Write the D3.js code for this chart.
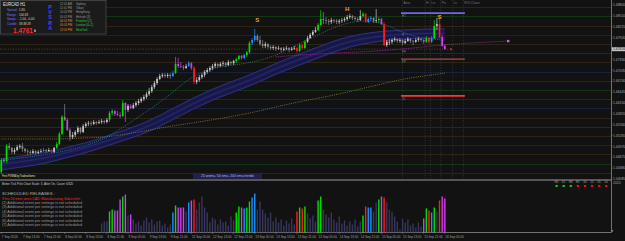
<!DOCTYPE html>
<html><head><meta charset="utf-8">
<script src="https://cdn.jsdelivr.net/npm/d3@7"></script>
<style>html,body{margin:0;padding:0;background:#131313;overflow:hidden}svg{display:block}text{font-family:"Liberation Sans",Arial,sans-serif}</style>
</head><body><svg id="c" width="625" height="241"></svg>
<script>
// ---------------- DATA ----------------
const symbol = "EURCAD  H1";
const lastPrice = "1.4761";
const bidPrice = 1.4761;
const firstOpen = 1.4427;
const closes = [
1.4460,1.4457,1.4498,1.4493,1.4482,1.4487,1.4495,1.4498,1.4490,1.4484,
1.4482,1.4479,1.4484,1.4479,1.4482,1.4484,1.4487,1.4484,1.4487,1.4482,
1.4493,1.4503,1.4531,1.4577,1.4569,1.4541,1.4522,1.4528,1.4536,1.4547,
1.4536,1.4552,1.4558,1.4560,1.4558,1.4563,1.4560,1.4563,1.4566,1.4563,
1.4569,1.4588,1.4593,1.4585,1.4582,1.4579,1.4615,1.4596,1.4607,1.4601,
1.4609,1.4615,1.4620,1.4626,1.4631,1.4639,1.4647,1.4658,1.4669,1.4680,
1.4688,1.4691,1.4688,1.4691,1.4688,1.4696,1.4721,1.4715,1.4713,1.4710,
1.4715,1.4723,1.4710,1.4672,1.4677,1.4685,1.4691,1.4699,1.4704,1.4710,
1.4715,1.4721,1.4715,1.4721,1.4723,1.4718,1.4726,1.4723,1.4729,1.4734,
1.4743,1.4737,1.4745,1.4753,1.4778,1.4786,1.4797,1.4786,1.4775,1.4770,
1.4775,1.4767,1.4764,1.4767,1.4762,1.4764,1.4759,1.4762,1.4764,1.4759,
1.4762,1.4764,1.4756,1.4772,1.4764,1.4781,1.4791,1.4800,1.4808,1.4813,
1.4827,1.4843,1.4840,1.4838,1.4835,1.4840,1.4838,1.4835,1.4838,1.4840,
1.4843,1.4848,1.4851,1.4846,1.4843,1.4840,1.4851,1.4857,1.4835,1.4843,
1.4846,1.4838,1.4840,1.4843,1.4829,1.4772,1.4781,1.4781,1.4786,1.4789,
1.4783,1.4786,1.4778,1.4783,1.4789,1.4783,1.4781,1.4786,1.4789,1.4786,
1.4781,1.4791,1.4781,1.4791,1.4824,1.4829,1.4794,1.4770,1.4761];
const highs = [
1.4465,1.4465,1.4503,1.4506,1.4495,1.4493,1.4501,1.4503,1.4506,1.4493,
1.4490,1.4487,1.4490,1.4487,1.4487,1.4490,1.4493,1.4490,1.4493,1.4490,
1.4495,1.4509,1.4536,1.4582,1.4612,1.4574,1.4547,1.4536,1.4541,1.4552,
1.4550,1.4558,1.4563,1.4566,1.4566,1.4569,1.4566,1.4569,1.4571,1.4569,
1.4574,1.4593,1.4598,1.4596,1.4593,1.4590,1.4623,1.4617,1.4612,1.4612,
1.4615,1.4620,1.4626,1.4631,1.4637,1.4645,1.4656,1.4664,1.4675,1.4685,
1.4694,1.4696,1.4696,1.4696,1.4696,1.4702,1.4740,1.4737,1.4726,1.4718,
1.4721,1.4729,1.4726,1.4715,1.4685,1.4691,1.4696,1.4704,1.4710,1.4715,
1.4721,1.4726,1.4723,1.4726,1.4729,1.4726,1.4732,1.4729,1.4732,1.4737,
1.4745,1.4745,1.4748,1.4756,1.4783,1.4791,1.4816,1.4802,1.4797,1.4786,
1.4781,1.4778,1.4772,1.4772,1.4770,1.4770,1.4767,1.4767,1.4770,1.4767,
1.4767,1.4770,1.4767,1.4778,1.4775,1.4786,1.4797,1.4805,1.4813,1.4821,
1.4832,1.4867,1.4862,1.4848,1.4843,1.4846,1.4843,1.4843,1.4843,1.4846,
1.4848,1.4854,1.4857,1.4854,1.4851,1.4848,1.4867,1.4862,1.4859,1.4848,
1.4851,1.4848,1.4870,1.4848,1.4846,1.4835,1.4786,1.4789,1.4791,1.4794,
1.4791,1.4791,1.4789,1.4789,1.4794,1.4791,1.4786,1.4791,1.4794,1.4791,
1.4789,1.4797,1.4794,1.4797,1.4840,1.4846,1.4851,1.4800,1.4775];
const lows = [
1.4422,1.4452,1.4452,1.4487,1.4476,1.4476,1.4484,1.4490,1.4482,1.4479,
1.4474,1.4474,1.4476,1.4474,1.4476,1.4479,1.4482,1.4479,1.4482,1.4479,
1.4479,1.4490,1.4501,1.4528,1.4566,1.4539,1.4512,1.4517,1.4522,1.4531,
1.4531,1.4533,1.4547,1.4552,1.4552,1.4555,1.4555,1.4558,1.4558,1.4558,
1.4560,1.4563,1.4582,1.4579,1.4579,1.4574,1.4577,1.4563,1.4590,1.4598,
1.4598,1.4604,1.4609,1.4615,1.4620,1.4626,1.4634,1.4642,1.4653,1.4664,
1.4677,1.4683,1.4683,1.4683,1.4680,1.4685,1.4694,1.4710,1.4710,1.4704,
1.4707,1.4713,1.4704,1.4666,1.4666,1.4672,1.4680,1.4685,1.4694,1.4699,
1.4704,1.4710,1.4710,1.4713,1.4715,1.4713,1.4715,1.4718,1.4718,1.4723,
1.4732,1.4732,1.4734,1.4740,1.4748,1.4772,1.4781,1.4781,1.4770,1.4764,
1.4764,1.4762,1.4759,1.4759,1.4756,1.4759,1.4753,1.4756,1.4759,1.4753,
1.4756,1.4759,1.4751,1.4753,1.4759,1.4762,1.4778,1.4789,1.4797,1.4805,
1.4810,1.4824,1.4829,1.4829,1.4827,1.4829,1.4832,1.4829,1.4829,1.4832,
1.4835,1.4838,1.4843,1.4840,1.4838,1.4835,1.4838,1.4846,1.4832,1.4832,
1.4838,1.4832,1.4832,1.4832,1.4827,1.4770,1.4767,1.4772,1.4775,1.4781,
1.4778,1.4778,1.4772,1.4775,1.4781,1.4778,1.4772,1.4778,1.4781,1.4781,
1.4775,1.4778,1.4775,1.4778,1.4789,1.4813,1.4791,1.4767,1.4759];
// PVSRA bar class: n normal, G climax bull, R climax bear, B rising bull, M rising bear
const pvsraClass = (
"G n G n n n n n n n " + "n n n n n n B n n R " + "n G G G n M n n n n " + "n n n n n n n n n n " +
"n G G M M M G M n M " + "n n n n n n n n n n " + "n n n n n B G M M M " + "n B M R n n n n n n " +
"n n n n n n n n n G " + "G M B G G B B n n n " + "n n n n n n n n n n " + "n n R G R G n n n n " +
"G G n n n n n n n n " + "n n n n n n n G R B " + "B n n G M R n n n n " + "n n n n n n n n n n " +
"M G R B G n R M M").trim().split(" ");
const volStart = 38;
const volumes = [
360,440,440,840,920,880,880,1320,1440,1520,
680,720,520,360,440,280,480,600,400,520,
320,440,480,280,360,200,320,800,1080,1000,
1000,1000,840,1200,1280,1320,920,1200,1440,1000,
800,400,600,520,320,520,400,440,280,640,
480,800,1040,1000,960,1000,1240,1400,1560,920,
1240,920,760,600,800,440,600,400,520,280,
480,360,560,320,840,1000,960,1040,760,560,
680,440,1280,1440,920,720,600,800,520,400,
640,360,480,280,440,320,520,240,440,680,
1040,1000,1000,840,1200,1320,1440,1400,1200,920,
840,640,440,120,560,400,520,280,360,200,
400,240,560,960,880,800,1000,840,1280,1440,1360];
// moving averages sampled every 8 bars
const maIdx = [0,8,16,24,32,40,48,56,64,72,80,88,96,104,112,120,128,136,144,152,160,168];
const ribbonTop = [1.4463,1.4471,1.4479,1.4493,1.4506,1.4525,1.4544,1.4566,1.4596,1.4626,1.4653,1.4675,1.4696,1.4723,1.4745,1.4767,1.4789,1.4802,1.4810,1.4813,1.4816,1.4816];
const ribbonMid = [1.4448,1.4456,1.4464,1.4479,1.4493,1.4512,1.4531,1.4551,1.4581,1.4611,1.4638,1.4660,1.4681,1.4709,1.4730,1.4752,1.4774,1.4789,1.4797,1.4801,1.4804,1.4804];
const ribbonBottom = [1.4433,1.4441,1.4449,1.4465,1.4479,1.4498,1.4517,1.4536,1.4566,1.4596,1.4623,1.4645,1.4666,1.4694,1.4715,1.4737,1.4759,1.4775,1.4783,1.4789,1.4791,1.4791];
const fastMA = [1.4460,1.4465,1.4474,1.4484,1.4498,1.4520,1.4558,1.4596,1.4637,1.4688,1.4710,1.4718,1.4726,1.4743,1.4772,1.4800,1.4827,1.4840,1.4835,1.4805,1.4789,1.4786];
const slowMA = [1.4517,1.4517,1.4517,1.4517,1.4520,1.4522,1.4531,1.4541,1.4552,1.4560,1.4569,1.4579,1.4590,1.4604,1.4617,1.4628,1.4639,1.4653,1.4666,1.4680,1.4688,1.4696];
const projIdx = [104,112,128,144,160,170,192];
const projVal = [1.4740,1.4745,1.4751,1.4756,1.4767,1.4775,1.4783];
// pivot style levels
const levelPrices = [1.4859,1.4734,1.4634];
const levelColors = ["#6a6aec","#b04a4a","#ff3434"];
const levelNames = ["R1","PP","S1"];
const levelFrom = 151.4, levelTo = 175.6;
const extraLevelLabels = [["R", 1.4800],["PP", 1.4753]];
// session vertical lines
const sessionIdx = [152,160.5,162.5,166.5,171,175];
const sessionNames = ["Asia","Fr","Lo","Po","Lc","ROI Close"];
// swing markers
const markers = [["S",97,1.4838],["H",131,1.4870],["S",166,1.4848]];
// grid levels
const gridLevels = [1.4875,1.4850,1.4825,1.4800,1.4775,1.4750,1.4725,1.4700,1.4675,1.4650,1.4625,1.4600,1.4575,1.4550,1.4525,1.4500,1.4475,1.4450,1.4425];
// price axis labels
const priceTicks = [1.48805,1.48510,1.48215,1.47920,1.47625,1.47330,1.47035,1.46740,1.46445,1.46150,1.45855,1.45560,1.45265,1.44970,1.44675,1.44380,1.44085];
const timeLabels = ["7 Sep 2016","7 Sep 13:00","7 Sep 21:00","8 Sep 05:00","8 Sep 13:00","8 Sep 21:00","9 Sep 05:00","9 Sep 13:00","9 Sep 21:00","12 Sep 05:00","12 Sep 13:00","12 Sep 21:00","13 Sep 05:00","13 Sep 13:00","13 Sep 21:00","14 Sep 05:00","14 Sep 13:00","14 Sep 21:00","15 Sep 05:00","15 Sep 13:00","15 Sep 21:00","16 Sep 05:00"];
const timeStep = 8;
// info panel
const infoRows = [["Spread :","1.80"],["Range :","100.83"],["Swaps :","-1.00, -0.00"],["Candle :","38:38:28"]];
const pvsraLetters = ["P","V","S","R","A"];
const sessTimes = ["12:01 AM","11:01 PM","10:01 PM","05:01 PM","06:01 PM","05:01 PM","12:01 PM"];
const sessNames = ["Sydney","Tokyo","HongKong","Helsinki  [3]","Frankfurt  [1]","London  [0+1]","NewYork"];
const sessOpen = [false,false,false,false,true,true,true];
const tfLabels = ["W1","D1","H4","H1","30","15","05","01"];
const tfBull = [true,true,true,false,false,false,false,false];
const releaseLines = ["(2) Additional event per settings is not scheduled","(3) Additional event per settings is not scheduled","(4) Additional event per settings is not scheduled","(5) Additional event per settings is not scheduled","(6) Additional event per settings is not scheduled","(7) Additional event per settings is not scheduled"];

// ---------------- DRAW ----------------
const svg = d3.select("#c");
const plotR = 611, mainBot = 179, subTop = 181, subBot = 232.5;
const x = d3.scaleLinear().domain([0,100]).range([1.3, 1.3+264]);
const y = d3.scaleLinear().domain([1.4881,1.4411]).range([5,178]);
const yv = d3.scaleLinear().domain([0,2020]).range([subBot, subTop+1]);
const F = "Liberation Sans, Arial, sans-serif";

svg.append("rect").attr("width",625).attr("height",241).attr("fill","#121212");
const defs = svg.append("defs");
defs.append("clipPath").attr("id","mc").append("rect").attr("x",0).attr("y",0).attr("width",plotR).attr("height",mainBot);
const main = svg.append("g").attr("clip-path","url(#mc)");

// grid levels
function gridColor(v){const p=Math.round(v*10000); if(p%100===0) return "#1c2446"; if(p%50===0) return "#173c17"; return "#352a17";}
main.selectAll(".gl").data(gridLevels).enter().append("line")
  .attr("x1",0).attr("x2",plotR).attr("y1",d=>Math.round(y(d))+0.5).attr("y2",d=>Math.round(y(d))+0.5)
  .attr("stroke",gridColor).attr("stroke-width",0.8);

// session verticals
main.selectAll(".sv").data(sessionIdx).enter().append("line")
  .attr("x1",d=>x(d)).attr("x2",d=>x(d)).attr("y1",0).attr("y2",mainBot)
  .attr("stroke","#4a4a4a").attr("stroke-width",0.6).attr("stroke-dasharray","1,1.5");
main.selectAll(".sn").data(sessionNames).enter().append("text")
  .attr("x",(d,i)=>x(sessionIdx[i])+1).attr("y",4.2).attr("font-size",3.3).attr("fill","#7a7a7a").attr("font-family",F).text(d=>d);

// bid line
main.append("line").attr("x1",0).attr("x2",x(170)+2).attr("y1",y(bidPrice)).attr("y2",y(bidPrice))
  .attr("stroke","#6a6a6a").attr("stroke-width",0.6).attr("stroke-dasharray","1,1.6");

// ribbon
const rib = maIdx.map((d,i)=>({i:d,t:ribbonTop[i],m:ribbonMid[i],b:ribbonBottom[i]}));
main.append("path").datum(rib).attr("d",d3.area().curve(d3.curveBasis).x(d=>x(d.i)).y0(d=>y(d.b)).y1(d=>y(d.t)))
  .attr("fill","#1a1a4e");
[["t","#33338a",0.9],["b","#33338a",0.9],["m","#2c2c7c",0.8]].forEach(([k,c,w])=>{
  main.append("path").datum(rib).attr("d",d3.line().curve(d3.curveBasis).x(d=>x(d.i)).y(d=>y(d[k])))
   .attr("fill","none").attr("stroke",c).attr("stroke-width",w);
});
[0.25,0.75].forEach(f=>{
  main.append("path").datum(rib).attr("d",d3.line().curve(d3.curveBasis).x(d=>x(d.i)).y(d=>y(d.t)+(y(d.b)-y(d.t))*f))
   .attr("fill","none").attr("stroke","#121236").attr("stroke-width",0.7);
});

// slow MA (olive) and fast MA (teal)
main.append("path").datum(maIdx.map((d,i)=>[d,slowMA[i]])).attr("d",d3.line().curve(d3.curveBasis).x(d=>x(d[0])).y(d=>y(d[1])))
  .attr("fill","none").attr("stroke","#8c8448").attr("stroke-width",0.8).attr("stroke-dasharray","1,1.2");
main.append("path").datum(maIdx.map((d,i)=>[d,fastMA[i]])).attr("d",d3.line().curve(d3.curveBasis).x(d=>x(d[0])).y(d=>y(d[1])))
  .attr("fill","none").attr("stroke","#238a8a").attr("stroke-width",0.8).attr("stroke-dasharray","1,1.2");
// projection (magenta)
main.append("path").datum(projIdx.map((d,i)=>[d,projVal[i]])).attr("d",d3.line().curve(d3.curveBasis).x(d=>x(d[0])).y(d=>y(d[1])))
  .attr("fill","none").attr("stroke","#a82ca8").attr("stroke-width",0.8).attr("stroke-dasharray","1,1");
main.append("rect").attr("x",x(projIdx[projIdx.length-1])-1.2).attr("y",y(projVal[projVal.length-1])-1.2).attr("width",2.4).attr("height",2.4).attr("fill","#c868c8");

// levels
levelPrices.forEach((p,i)=>{
  main.append("line").attr("x1",x(levelFrom)).attr("x2",x(levelTo)).attr("y1",y(p)).attr("y2",y(p))
    .attr("stroke",levelColors[i]).attr("stroke-width",i===1?1.2:1.6);
  main.append("text").attr("x",x(levelFrom)+1).attr("y",y(p)+3.6).attr("font-size",3).attr("fill","#7a7a7a").attr("font-family",F).text(levelNames[i]);
});
extraLevelLabels.forEach(([n,p])=>{
  main.append("text").attr("x",x(levelFrom)+1).attr("y",y(p)+1).attr("font-size",3).attr("fill","#7a7a7a").attr("font-family",F).text(n);
});

// candles
const colorOf=(t,up)=>t==="G"?"#00e000":t==="R"?"#ff1c1c":t==="B"?"#1e90ff":t==="M"?"#d23cf2":(up?"#c8c8c8":"#8a8a8a");
const bars = closes.map((c,i)=>{const o=i===0?firstOpen:closes[i-1];return {i,o,c,h:highs[i],l:lows[i],t:pvsraClass[i],up:c>=o};});
const cg = main.append("g");
cg.selectAll(".w").data(bars).enter().append("line")
  .attr("x1",d=>x(d.i)).attr("x2",d=>x(d.i)).attr("y1",d=>y(d.h)).attr("y2",d=>y(d.l))
  .attr("stroke",d=>colorOf(d.t,d.up)).attr("stroke-width",0.7);
cg.selectAll(".b").data(bars).enter().append("rect")
  .attr("x",d=>x(d.i)-0.85).attr("width",1.7)
  .attr("y",d=>y(Math.max(d.o,d.c))).attr("height",d=>Math.max(0.7,Math.abs(y(d.o)-y(d.c))))
  .attr("fill",d=>colorOf(d.t,d.up));
main.append("rect").attr("x",x(170)).attr("y",y(bidPrice)-0.8).attr("width",1.8).attr("height",1.8).attr("fill","#ff2020");

// markers
main.selectAll(".mk").data(markers).enter().append("text")
  .attr("x",d=>x(d[1])).attr("y",d=>y(d[2])).attr("text-anchor","middle").attr("dominant-baseline","middle")
  .attr("font-size",6).attr("font-weight","bold").attr("fill","#f0a030").attr("font-family",F).text(d=>d[0]);

// ribbon legend box + footer
main.append("rect").attr("x",193).attr("y",173).attr("width",69).attr("height",6).attr("fill","#20204c");
main.append("text").attr("x",227.5).attr("y",177.3).attr("text-anchor","middle").attr("font-size",3.2).attr("fill","#b8b8d8").attr("font-family",F)
  .attr("textLength",53).attr("lengthAdjust","spacingAndGlyphs").text("25 wsma, 50 sma, 200 sma trends");
main.append("text").attr("x",2).attr("y",177.3).attr("font-size",3.2).attr("fill","#e4e4b4").attr("font-family",F)
  .attr("textLength",33).attr("lengthAdjust","spacingAndGlyphs").text("Free PVSRA by Traderathome");

// info panel
const ip = svg.append("g");
ip.append("rect").attr("x",0.5).attr("y",0.5).attr("width",105.5).attr("height",33.5).attr("fill","#1b1b1b").attr("stroke","#4c4c4c").attr("stroke-width",0.8);
ip.append("text").attr("x",3).attr("y",5.6).attr("font-size",4.6).attr("fill","#e8e8e8").attr("font-family",F)
  .attr("textLength",22).attr("lengthAdjust","spacingAndGlyphs").text(symbol);
infoRows.forEach((r,i)=>{
  ip.append("text").attr("x",7).attr("y",11+i*4.5).attr("font-size",3).attr("fill","#6a7cff").attr("font-family",F).text(r[0]);
  ip.append("text").attr("x",19).attr("y",11+i*4.5).attr("font-size",3).attr("fill","#d8d8c0").attr("font-family",F).text(r[1]);
});
ip.append("text").attr("x",13).attr("y",33).attr("font-size",8).attr("font-weight","bold").attr("fill","#ff2a2a").attr("font-family",F)
  .attr("textLength",20).attr("lengthAdjust","spacingAndGlyphs").text(lastPrice);
ip.append("rect").attr("x",34).attr("y",29.5).attr("width",2).attr("height",2.5).attr("fill","#8a8a8a");
pvsraLetters.forEach((l,i)=>{
  ip.append("text").attr("x",50).attr("y",9+i*5.2).attr("text-anchor","middle").attr("font-size",5.2).attr("font-weight","bold").attr("fill","#4a4aff").attr("font-family",F).text(l);
});
sessTimes.forEach((t,i)=>{
  ip.append("text").attr("x",60).attr("y",4.8+i*4.3).attr("font-size",2.9).attr("fill",sessOpen[i]?"#e09030":"#9a9a9a").attr("font-family",F)
    .attr("textLength",12).attr("lengthAdjust","spacingAndGlyphs").text(t);
  ip.append("text").attr("x",76).attr("y",4.8+i*4.3).attr("font-size",2.9).attr("fill",sessOpen[i]?"#3cc43c":"#9a9a9a").attr("font-family",F).text(sessNames[i]);
});

// frame lines
svg.append("line").attr("x1",0).attr("x2",plotR).attr("y1",180).attr("y2",180).attr("stroke","#6e6e6e").attr("stroke-width",1.6);
svg.append("line").attr("x1",plotR+0.5).attr("x2",plotR+0.5).attr("y1",0).attr("y2",subBot).attr("stroke","#8a8a8a").attr("stroke-width",0.8);
svg.append("line").attr("x1",0).attr("x2",plotR+0.5).attr("y1",subBot).attr("y2",subBot).attr("stroke","#8a8a8a").attr("stroke-width",0.8);

// price axis
svg.selectAll(".pt").data(priceTicks).enter().append("text")
  .attr("x",613).attr("y",d=>y(d)+1.2).attr("font-size",3.4).attr("fill","#a8a8a8").attr("font-family",F).text(d=>d.toFixed(5));
svg.selectAll(".ptk").data(priceTicks).enter().append("line")
  .attr("x1",plotR).attr("x2",plotR+1.5).attr("y1",d=>y(d)).attr("y2",d=>y(d)).attr("stroke","#8a8a8a").attr("stroke-width",0.5);
svg.append("rect").attr("x",612).attr("y",y(bidPrice)-2).attr("width",13).attr("height",4).attr("fill","#c4c4c4");
svg.append("text").attr("x",613).attr("y",y(bidPrice)+1.2).attr("font-size",3.4).attr("fill","#101010").attr("font-family",F).text("1.47616");
svg.append("text").attr("x",613).attr("y",183.5).attr("font-size",3.4).attr("fill","#a8a8a8").attr("font-family",F).text("2020");
svg.append("rect").attr("x",611.5).attr("y",230).attr("width",1.6).attr("height",1.6).attr("fill","#8a8a8a");

// volume sub-window
const vb = volumes.map((v,k)=>({i:volStart+k,v,t:pvsraClass[volStart+k]}));
svg.selectAll(".vb").data(vb).enter().append("rect")
  .attr("x",d=>x(d.i)-0.7).attr("width",1.4).attr("y",d=>yv(d.v)).attr("height",d=>subBot-yv(d.v))
  .attr("fill",d=>d.t==="n"?"#36365e":colorOf(d.t,true));

svg.append("text").attr("x",2).attr("y",185).attr("font-size",3.2).attr("fill","#cfcfcf").attr("font-family",F)
  .attr("textLength",71).attr("lengthAdjust","spacingAndGlyphs").text("Better Tick Pvls    Chart Scale: 3,   Alert On,   Count: 6320");
svg.append("text").attr("x",2).attr("y",195).attr("font-size",3.4).attr("fill","#b0b0b0").attr("font-family",F)
  .attr("textLength",53).attr("lengthAdjust","spacingAndGlyphs").text("SCHEDULED RELEASES :");
svg.append("text").attr("x",2).attr("y",199.5).attr("font-size",3.2).attr("fill","#ff2c2c").attr("font-family",F)
  .attr("textLength",78).attr("lengthAdjust","spacingAndGlyphs").text("3 hrs 24 mins since CAD: Manufacturing Sales m/m");
releaseLines.forEach((t,i)=>{
  svg.append("text").attr("x",2).attr("y",204+i*4.4).attr("font-size",3.2).attr("fill","#9c9c9c").attr("font-family",F)
    .attr("textLength",80).attr("lengthAdjust","spacingAndGlyphs").text(t);
});
tfLabels.forEach((t,k)=>{
  const cx = 556.5 + k*7.1;
  svg.append("text").attr("x",cx).attr("y",183.2).attr("text-anchor","middle").attr("font-size",2.8).attr("fill","#a8a8a8").attr("font-family",F).text(t);
  svg.append("rect").attr("x",cx-1).attr("y",185).attr("width",2.2).attr("height",2).attr("fill",tfBull[k]?"#10d010":"#ee1010");
});

// time axis
svg.selectAll(".tl").data(timeLabels).enter().append("text")
  .attr("x",(d,k)=>x(k*timeStep)+0.5).attr("y",238.3).attr("font-size",3.1).attr("fill","#a0a0a0").attr("font-family",F).text(d=>d);
svg.selectAll(".tt").data(timeLabels).enter().append("line")
  .attr("x1",(d,k)=>x(k*timeStep)).attr("x2",(d,k)=>x(k*timeStep)).attr("y1",subBot).attr("y2",subBot+1.5).attr("stroke","#8a8a8a").attr("stroke-width",0.5);
</script></body></html>
